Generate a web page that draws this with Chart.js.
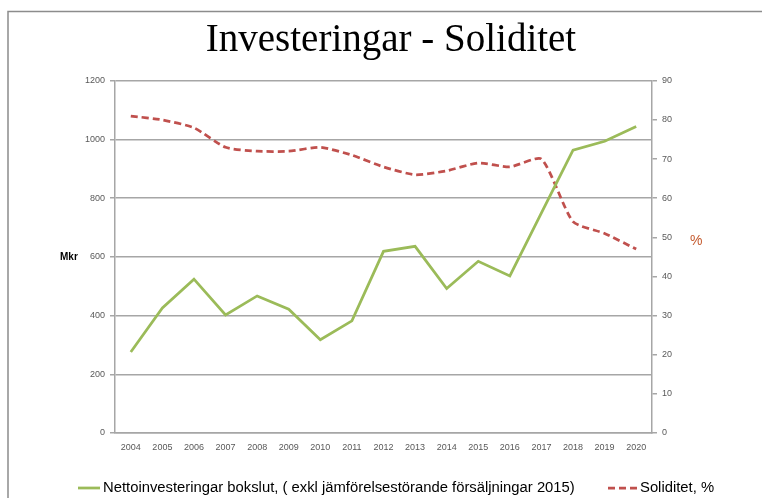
<!DOCTYPE html>
<html>
<head>
<meta charset="utf-8">
<script src="https://cdn.jsdelivr.net/npm/chart.js@4.4.1/dist/chart.umd.min.js"></script>
<style>
  html, body { margin: 0; padding: 0; background: #fff; }
  #wrap { position: relative; width: 762px; height: 498px; }
  canvas { display: block; }
</style>
</head>
<body>
<div id="wrap"><canvas id="c" width="762" height="498"></canvas></div>
<script>
const years = ['2004','2005','2006','2007','2008','2009','2010','2011','2012','2013','2014','2015','2016','2017','2018','2019','2020'];
const investeringar = [276, 426, 524, 402, 467, 422, 318, 382, 619, 636, 492, 585, 535, 750, 964, 994, 1044];
const soliditet = [81, 80, 78, 73, 72, 72, 73, 71, 68, 66, 67, 69, 68, 70, 54, 51, 47];
const leftTicks = [0, 200, 400, 600, 800, 1000, 1200];
const rightTicks = [0, 10, 20, 30, 40, 50, 60, 70, 80, 90];
const titleText = 'Investeringar - Soliditet';
const labelInvest = 'Nettoinvesteringar bokslut, ( exkl jämförelsestörande försäljningar 2015)';
const labelSolid = 'Soliditet, %';
const leftAxisLabel = 'Mkr';
const rightAxisLabel = '%';

const GREEN = '#9BBB59';
const RED = '#C0504D';
const GRID = '#A6A6A6';
const TICK = '#595959';

const framePlugin = {
  id: 'frame',
  beforeDraw(chart) {
    const ctx = chart.ctx;
    ctx.save();
    ctx.strokeStyle = '#8C8C8C';
    ctx.lineWidth = 1.5;
    ctx.beginPath();
    ctx.moveTo(8, 498);
    ctx.lineTo(8, 11.5);
    ctx.lineTo(762, 11.5);
    ctx.stroke();
    ctx.restore();
  }
};

const extrasPlugin = {
  id: 'extras',
  afterDraw(chart) {
    const ctx = chart.ctx;
    const a = chart.chartArea;
    ctx.save();
    ctx.textBaseline = 'middle';
    ctx.textAlign = 'left';
    ctx.fillStyle = '#000';
    ctx.font = 'bold 10px "Liberation Sans", Arial, sans-serif';
    ctx.fillText(leftAxisLabel, 60, (a.top + a.bottom) / 2);
    ctx.fillStyle = '#C55A2E';
    ctx.font = '14px "Liberation Sans", Arial, sans-serif';
    ctx.fillText(rightAxisLabel, 690, chart.scales.y1.getPixelForValue(49));

    // legend
    const y = 488;
    ctx.font = '13px "Liberation Sans", Arial, sans-serif';
    const w13 = ctx.measureText(labelInvest).width;
    const fs = Math.min(15, 13 * 472 / w13);
    ctx.font = fs.toFixed(2) + 'px "Liberation Sans", Arial, sans-serif';
    ctx.fillStyle = '#000';
    const ds = chart.data.datasets;
    const starts = [78, 608];
    const samples = [22, 29];
    ds.forEach((d, i) => {
      const x = starts[i];
      ctx.save();
      ctx.strokeStyle = d.borderColor;
      ctx.lineWidth = d.borderWidth;
      ctx.setLineDash(d.borderDash || []);
      ctx.beginPath();
      ctx.moveTo(x, y);
      ctx.lineTo(x + samples[i], y);
      ctx.stroke();
      ctx.restore();
      ctx.fillText(d.label, x + samples[i] + 3, y);
    });
    ctx.restore();
  }
};

const tickFont = { family: '"Liberation Sans", Arial, sans-serif', size: 9 };

new Chart(document.getElementById('c'), {
  type: 'line',
  data: {
    labels: years,
    datasets: [
      {
        label: labelInvest,
        data: investeringar,
        yAxisID: 'y',
        borderColor: GREEN,
        backgroundColor: GREEN,
        borderWidth: 2.75,
        pointRadius: 0,
        tension: 0,
        fill: false
      },
      {
        label: labelSolid,
        data: soliditet,
        yAxisID: 'y1',
        borderColor: RED,
        backgroundColor: RED,
        borderWidth: 2.75,
        borderDash: [7, 4],
        pointRadius: 0,
        tension: 0.2,
        fill: false
      }
    ]
  },
  options: {
    responsive: false,
    animation: false,
    devicePixelRatio: 1,
    layout: { padding: { left: 20, right: 0, top: 0, bottom: 0 } },
    plugins: {
      legend: { display: false },
      tooltip: { enabled: false },
      title: {
        display: true,
        text: titleText,
        color: '#000',
        font: { family: '"Liberation Serif", "Times New Roman", serif', size: 39, weight: 'normal', lineHeight: 1.2 },
        padding: { top: 17, bottom: 17 }
      }
    },
    scales: {
      x: {
        type: 'category',
        offset: true,
        grid: { display: false, drawTicks: false },
        border: { display: true, color: GRID, width: 1.5 },
        ticks: { color: TICK, font: tickFont, padding: 9, maxRotation: 0, autoSkip: false },
        afterFit(s) { s.height = 65; }
      },
      y: {
        position: 'left',
        min: 0,
        max: 1200,
        afterBuildTicks(s) { s.ticks = leftTicks.map(v => ({ value: v })); },
        grid: { color: GRID, lineWidth: 1.5, drawTicks: true, tickLength: 5 },
        border: { display: true, color: GRID, width: 1.5 },
        ticks: { color: TICK, font: tickFont, padding: 5, callback: v => String(v) },
        afterFit(s) { s.width = 95; }
      },
      y1: {
        position: 'right',
        min: 0,
        max: 90,
        afterBuildTicks(s) { s.ticks = rightTicks.map(v => ({ value: v })); },
        grid: { drawOnChartArea: false, color: GRID, lineWidth: 1.5, drawTicks: true, tickLength: 5 },
        border: { display: true, color: GRID, width: 1.5 },
        ticks: { color: TICK, font: tickFont, padding: 5, callback: v => String(v) },
        afterFit(s) { s.width = 110; }
      }
    }
  },
  plugins: [framePlugin, extrasPlugin]
});
</script>
</body>
</html>
